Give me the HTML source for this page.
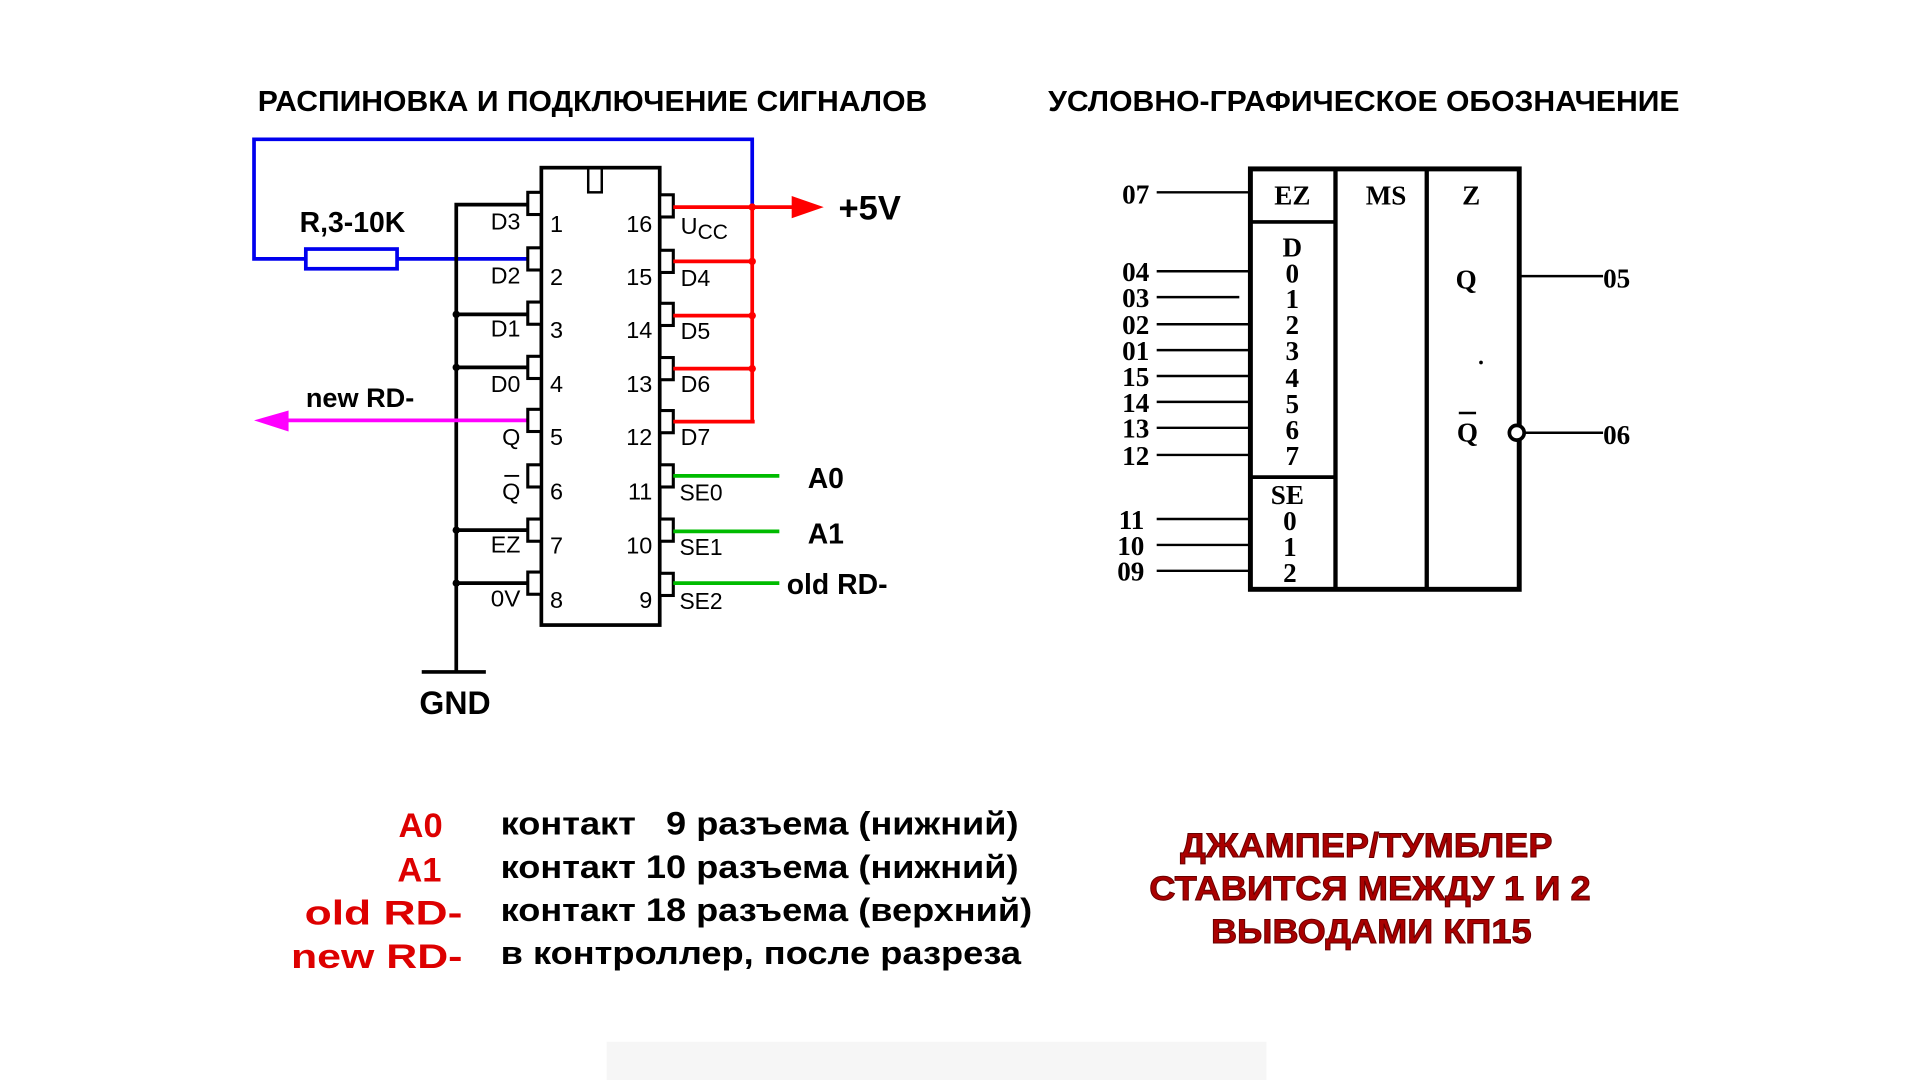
<!DOCTYPE html>
<html><head><meta charset="utf-8">
<style>
html,body{margin:0;padding:0;background:#fff;}
svg{display:block;}
.s{font-family:"Liberation Sans",sans-serif;font-weight:bold;}
.p{font-family:"Liberation Sans",sans-serif;font-size:19px;}
.r{font-family:"Liberation Serif",serif;font-weight:bold;font-size:22px;}
</style></head>
<body>
<svg width="1920" height="1080" viewBox="0 0 1557 876" preserveAspectRatio="none" xmlns="http://www.w3.org/2000/svg">
<rect width="1557" height="876" fill="#fff"/>
<rect x="492" y="845" width="535" height="31" fill="#f6f6f6"/>
<!-- titles -->
<text class="s" x="209" y="90" font-size="23" textLength="543" lengthAdjust="spacingAndGlyphs">РАСПИНОВКА И ПОДКЛЮЧЕНИЕ СИГНАЛОВ</text>
<text class="s" x="850" y="90" font-size="23" textLength="512" lengthAdjust="spacingAndGlyphs">УСЛОВНО-ГРАФИЧЕСКОЕ ОБОЗНАЧЕНИЕ</text>

<!-- blue -->
<polyline points="433,210 322,210" stroke="#0000ee" stroke-width="3" fill="none"/>
<polyline points="248,210 206,210 206,113 610,113 610,168" stroke="#0000ee" stroke-width="3" fill="none"/>
<rect x="248" y="202" width="74" height="16" fill="none" stroke="#0000ee" stroke-width="3"/>
<text class="s" x="243" y="188" font-size="23">R,3-10K</text>

<!-- black left wiring -->
<g stroke="#000" stroke-width="3" fill="none">
<polyline points="428,166 370,166 370,545"/>
<line x1="370" y1="255" x2="428" y2="255"/>
<line x1="370" y1="298" x2="428" y2="298"/>
<line x1="370" y1="430" x2="428" y2="430"/>
<line x1="370" y1="473" x2="428" y2="473"/>
<line x1="342" y1="545" x2="394" y2="545"/>
</g>
<g fill="#000"><circle cx="370" cy="255" r="3"/><circle cx="370" cy="298" r="3"/><circle cx="370" cy="430" r="3"/><circle cx="370" cy="473" r="3"/></g>
<text class="s" x="369" y="579" font-size="26" text-anchor="middle">GND</text>

<!-- magenta -->
<line x1="430" y1="341" x2="228" y2="341" stroke="#ff00ff" stroke-width="3"/>
<polygon points="206,341 234,333 234,350" fill="#ff00ff"/>
<text class="s" x="248" y="330" font-size="22">new RD-</text>

<!-- IC -->
<rect x="439" y="136" width="96" height="371" fill="none" stroke="#000" stroke-width="3"/>
<rect x="477" y="136" width="11" height="20" fill="none" stroke="#000" stroke-width="2"/>
<g stroke="#000" stroke-width="2.5" fill="#fff">
<rect x="428" y="156" width="11" height="18"/><rect x="428" y="201" width="11" height="18"/>
<rect x="428" y="245" width="11" height="18"/><rect x="428" y="289" width="11" height="18"/>
<rect x="428" y="332" width="11" height="18"/><rect x="428" y="377" width="11" height="18"/>
<rect x="428" y="421" width="11" height="18"/><rect x="428" y="464" width="11" height="18"/>
<rect x="535" y="158" width="11" height="18"/><rect x="535" y="203" width="11" height="18"/>
<rect x="535" y="246" width="11" height="18"/><rect x="535" y="290" width="11" height="18"/>
<rect x="535" y="333" width="11" height="18"/><rect x="535" y="377" width="11" height="18"/>
<rect x="535" y="421" width="11" height="18"/><rect x="535" y="465" width="11" height="18"/>
</g>
<g class="p" text-anchor="end">
<text x="422" y="186" textLength="24" lengthAdjust="spacingAndGlyphs">D3</text>
<text x="422" y="230" textLength="24" lengthAdjust="spacingAndGlyphs">D2</text>
<text x="422" y="273" textLength="24" lengthAdjust="spacingAndGlyphs">D1</text>
<text x="422" y="318" textLength="24" lengthAdjust="spacingAndGlyphs">D0</text>
<text x="422" y="361">Q</text>
<text x="422" y="405">Q</text>
<text x="422" y="448" textLength="24" lengthAdjust="spacingAndGlyphs">EZ</text>
<text x="422" y="492" textLength="24" lengthAdjust="spacingAndGlyphs">0V</text>
</g>
<line x1="409" y1="386" x2="421" y2="386" stroke="#000" stroke-width="1.5"/>
<g class="p">
<text x="446" y="188">1</text><text x="446" y="231">2</text><text x="446" y="274">3</text><text x="446" y="318">4</text>
<text x="446" y="361">5</text><text x="446" y="405">6</text><text x="446" y="449">7</text><text x="446" y="493">8</text>
</g>
<g class="p" text-anchor="end">
<text x="529" y="188">16</text><text x="529" y="231">15</text><text x="529" y="274">14</text><text x="529" y="318">13</text>
<text x="529" y="361">12</text><text x="529" y="405">11</text><text x="529" y="449">10</text><text x="529" y="493">9</text>
</g>
<g class="p">
<text x="552" y="190">U<tspan font-size="17" dy="4">CC</tspan></text>
<text x="552" y="232" textLength="24" lengthAdjust="spacingAndGlyphs">D4</text>
<text x="552" y="275" textLength="24" lengthAdjust="spacingAndGlyphs">D5</text>
<text x="552" y="318" textLength="24" lengthAdjust="spacingAndGlyphs">D6</text>
<text x="552" y="361" textLength="24" lengthAdjust="spacingAndGlyphs">D7</text>
<text x="551" y="406" textLength="35" lengthAdjust="spacingAndGlyphs">SE0</text>
<text x="551" y="450" textLength="35" lengthAdjust="spacingAndGlyphs">SE1</text>
<text x="551" y="494" textLength="35" lengthAdjust="spacingAndGlyphs">SE2</text>
</g>

<!-- red -->
<g stroke="#ff0000" stroke-width="3" fill="none">
<line x1="546" y1="168" x2="645" y2="168"/>
<line x1="546" y1="212" x2="610" y2="212"/>
<line x1="546" y1="256" x2="610" y2="256"/>
<line x1="546" y1="299" x2="610" y2="299"/>
<line x1="546" y1="342" x2="612" y2="342"/>
<line x1="610" y1="168" x2="610" y2="342"/>
</g>
<g fill="#ff0000"><circle cx="610" cy="168" r="3"/><circle cx="610" cy="212" r="3"/><circle cx="610" cy="256" r="3"/><circle cx="610" cy="299" r="3"/></g>
<polygon points="642,159 668,168 642,177" fill="#ff0000"/>
<text class="s" x="680" y="178" font-size="28">+5V</text>

<!-- green -->
<g stroke="#00bb00" stroke-width="3">
<line x1="546" y1="386" x2="632" y2="386"/>
<line x1="546" y1="431" x2="632" y2="431"/>
<line x1="546" y1="473" x2="632" y2="473"/>
</g>
<text class="s" x="655" y="396" font-size="23">A0</text>
<text class="s" x="655" y="441" font-size="23">A1</text>
<text class="s" x="638" y="482" font-size="23">old RD-</text>

<!-- right symbol -->
<g stroke="#000" fill="none">
<rect x="1014" y="137" width="218" height="341" stroke-width="4"/>
<line x1="1083" y1="137" x2="1083" y2="478" stroke-width="3.5"/>
<line x1="1157" y1="137" x2="1157" y2="478" stroke-width="3.5"/>
<line x1="1014" y1="180" x2="1083" y2="180" stroke-width="3"/>
<line x1="1014" y1="387" x2="1083" y2="387" stroke-width="3"/>
<g stroke-width="2">
<line x1="938" y1="156" x2="1014" y2="156"/>
<line x1="938" y1="220" x2="1014" y2="220"/>
<line x1="938" y1="241" x2="1005" y2="241"/>
<line x1="938" y1="263" x2="1014" y2="263"/>
<line x1="938" y1="284" x2="1014" y2="284"/>
<line x1="938" y1="305" x2="1014" y2="305"/>
<line x1="938" y1="326" x2="1014" y2="326"/>
<line x1="938" y1="347" x2="1014" y2="347"/>
<line x1="938" y1="369" x2="1014" y2="369"/>
<line x1="938" y1="421" x2="1014" y2="421"/>
<line x1="938" y1="442" x2="1014" y2="442"/>
<line x1="938" y1="463" x2="1014" y2="463"/>
<line x1="1232" y1="224" x2="1300" y2="224"/>
<line x1="1236" y1="351" x2="1300" y2="351"/>
</g>
<circle cx="1230" cy="351" r="6" stroke-width="3" fill="#fff"/>
</g>
<g class="r" text-anchor="end">
<text x="932" y="165">07</text>
<text x="932" y="228">04</text><text x="932" y="249">03</text><text x="932" y="271">02</text><text x="932" y="292">01</text>
<text x="932" y="313">15</text><text x="932" y="334">14</text><text x="932" y="355">13</text><text x="932" y="377">12</text>
<text x="928" y="429">11</text><text x="928" y="450">10</text><text x="928" y="471">09</text>
</g>
<g class="r">
<text x="1300" y="233">05</text><text x="1300" y="360">06</text>
</g>
<g class="r" text-anchor="middle">
<text x="1048" y="166">EZ</text><text x="1124" y="166">MS</text><text x="1193" y="166">Z</text>
<text x="1048" y="208">D</text><text x="1048" y="229">0</text><text x="1048" y="250">1</text><text x="1048" y="271">2</text>
<text x="1048" y="292">3</text><text x="1048" y="314">4</text><text x="1048" y="335">5</text><text x="1048" y="356">6</text><text x="1048" y="377">7</text>
<text x="1044" y="409">SE</text><text x="1046" y="430">0</text><text x="1046" y="451">1</text><text x="1046" y="472">2</text>
<text x="1189" y="234">Q</text><text x="1190" y="358">Q</text>
</g>
<line x1="1183" y1="335" x2="1197" y2="335" stroke="#000" stroke-width="2"/>
<circle cx="1201" cy="294" r="1.5" fill="#000"/>

<!-- bottom legend -->
<g class="s" fill="#dd0000" font-size="28" text-anchor="end">
<text x="359" y="679">A0</text>
<text x="358" y="715">A1</text>
<text x="375" y="750" textLength="128" lengthAdjust="spacingAndGlyphs">old  RD-</text>
<text x="375" y="785" textLength="139" lengthAdjust="spacingAndGlyphs">new RD-</text>
</g>
<g class="s" fill="#000" font-size="26" style="font-weight:bold">
<text x="406" y="677" textLength="420" lengthAdjust="spacingAndGlyphs" xml:space="preserve">контакт   9 разъема (нижний)</text>
<text x="406" y="712" textLength="420" lengthAdjust="spacingAndGlyphs">контакт 10 разъема (нижний)</text>
<text x="406" y="747" textLength="431" lengthAdjust="spacingAndGlyphs">контакт 18 разъема (верхний)</text>
<text x="406" y="782" textLength="422" lengthAdjust="spacingAndGlyphs">в контроллер, после разреза</text>
</g>
<g class="s" fill="#aa0000" stroke="#660000" stroke-width="0.8" font-size="28">
<text x="957" y="695" textLength="302" lengthAdjust="spacingAndGlyphs">ДЖАМПЕР/ТУМБЛЕР</text>
<text x="932" y="730" textLength="358" lengthAdjust="spacingAndGlyphs">СТАВИТСЯ МЕЖДУ 1 И 2</text>
<text x="982" y="765" textLength="260" lengthAdjust="spacingAndGlyphs">ВЫВОДАМИ КП15</text>
</g>
</svg>
</body></html>
